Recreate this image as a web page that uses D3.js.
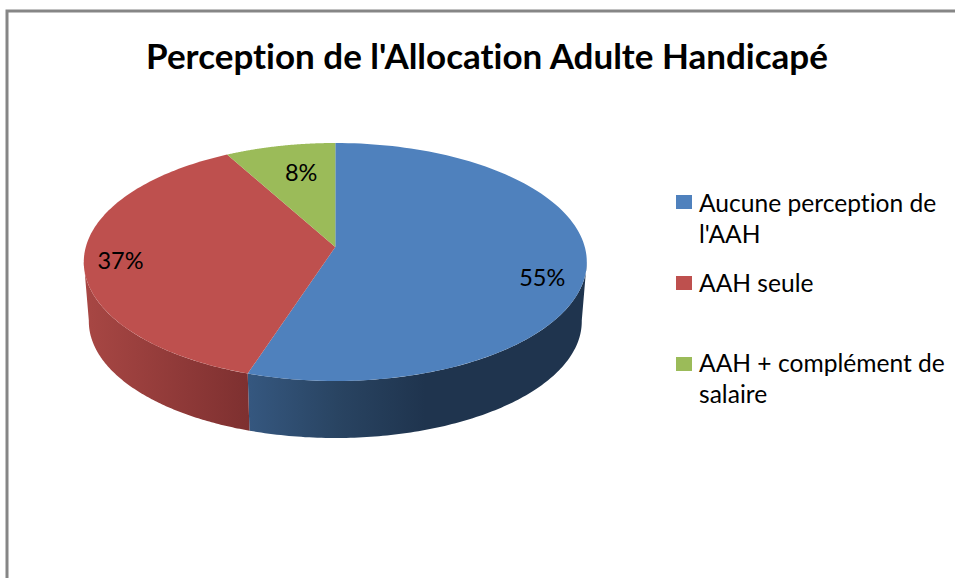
<!DOCTYPE html>
<html><head><meta charset="utf-8">
<script src="https://cdn.jsdelivr.net/npm/d3@7"></script>
<style>html,body{margin:0;padding:0;background:#fff}svg{display:block}text{font-variant-ligatures:none}</style>
</head><body><svg id="c" width="955" height="578"></svg>
<script>
const title = "Perception de l'Allocation Adulte Handicapé";
const categories = ["Aucune perception de l'AAH", "AAH seule", "AAH + complément de salaire"];
const values = [55, 37, 8];
const valueLabels = ["55%", "37%", "8%"];
const legendLines = [["Aucune perception de", "l'AAH"], ["AAH seule"], ["AAH + complément de", "salaire"]];
const topColors = ["#4F81BD", "#BE504E", "#9BBB59"];
const sideStops = [
  [["0%", "#35577F"], ["50%", "#294462"], ["100%", "#1F344E"]],
  [["0%", "#A84744"], ["100%", "#7E3030"]],
  [["0%", "#7A9446"], ["100%", "#7A9446"]]
];

const FONT = "Lato, 'Open Sans', sans-serif";
const svg = d3.select("#c");
svg.append("rect").attr("width", 955).attr("height", 578).attr("fill", "#fff");
svg.append("path").attr("d", "M7 578V11H955").attr("fill", "none").attr("stroke", "#868686").attr("stroke-width", 3);

svg.append("text").attr("x", 487).attr("y", 69).attr("text-anchor", "middle")
  .attr("font-family", FONT).attr("font-weight", 700).attr("font-size", 35).attr("fill", "#000").text(title);

// Perspective disc: maps (angle, radius) on a flat pie to the page
const apex = {x: 335.3, y: 247};
const persp = -0.126, bx = 249.5, by = 117.1;
const sx = d3.scaleLinear().domain([0, 1]).range([apex.x, apex.x + bx]);
const sy = d3.scaleLinear().domain([0, 1]).range([apex.y, apex.y + by]);
const depth = 59.7, rimScale = 0.98;
function project(a, r, rim) {
  const u = r * Math.sin(a), v = -r * Math.cos(a), w = 1 + persp * v;
  const s = rim ? rimScale : 1;
  return [sx(s * u / w), sy(s * v / w) + (rim ? depth : 0)];
}
const pie = d3.pie().sort(null)(values);
const line = d3.line();
const samples = (a0, a1) => d3.range(0, 121).map(i => a0 + (a1 - a0) * i / 120);

const defs = svg.append("defs");
const frontMin = Math.PI * 0.538, frontMax = Math.PI * 1.462;
pie.forEach((d, i) => {
  const a0 = Math.max(d.startAngle, frontMin), a1 = Math.min(d.endAngle, frontMax);
  if (a1 <= a0) return;
  const xs = [project(a0, 1, false)[0], project(a1, 1, false)[0]];
  const g = defs.append("linearGradient").attr("id", "side" + i).attr("gradientUnits", "userSpaceOnUse")
    .attr("y1", 0).attr("y2", 0);
  if (i === 0) { g.attr("x1", project(d.endAngle, 1, true)[0]).attr("x2", sx(0.36)); }
  else { g.attr("x1", d3.min(xs)).attr("x2", d3.max(xs)); }
  sideStops[i].forEach(s => g.append("stop").attr("offset", s[0]).attr("stop-color", s[1]));
  const top = samples(a0, a1).map(a => project(a, 1, false));
  const bot = samples(a1, a0).map(a => project(a, 1, true));
  svg.append("path").attr("d", line(top.concat(bot)) + "Z").attr("fill", `url(#side${i})`);
});
pie.forEach((d, i) => {
  const pts = [project(0, 0, false)].concat(samples(d.startAngle, d.endAngle).map(a => project(a, 1, false)));
  svg.append("path").attr("d", line(pts) + "Z").attr("fill", topColors[i]);
});

// Data labels: radial placement, then a nudge
const labelSpot = [[0.83, -1, 16], [0.86, 1, 4], [0.72, 7, 1]];
pie.forEach((d, i) => {
  const p = project((d.startAngle + d.endAngle) / 2, labelSpot[i][0], false);
  svg.append("text").attr("x", p[0] + labelSpot[i][1]).attr("y", p[1] + labelSpot[i][2] + 8)
    .attr("text-anchor", "middle").attr("font-family", FONT).attr("font-size", 23.5).attr("fill", "#000").text(valueLabels[i]);
});

// Legend
const legendY = d3.scalePoint().domain(categories).range([202, 364]);
const legendBase = d3.scalePoint().domain(categories).range([212, 372]);
categories.forEach((c, i) => {
  svg.append("rect").attr("x", 676).attr("y", legendY(c) - 7).attr("width", 16).attr("height", 14).attr("fill", topColors[i]);
  legendLines[i].forEach((t, k) => {
    svg.append("text").attr("x", 699).attr("y", legendBase(c) + k * 31)
      .attr("font-family", FONT).attr("font-size", 24.6).attr("fill", "#000").text(t);
  });
});
</script></body></html>
